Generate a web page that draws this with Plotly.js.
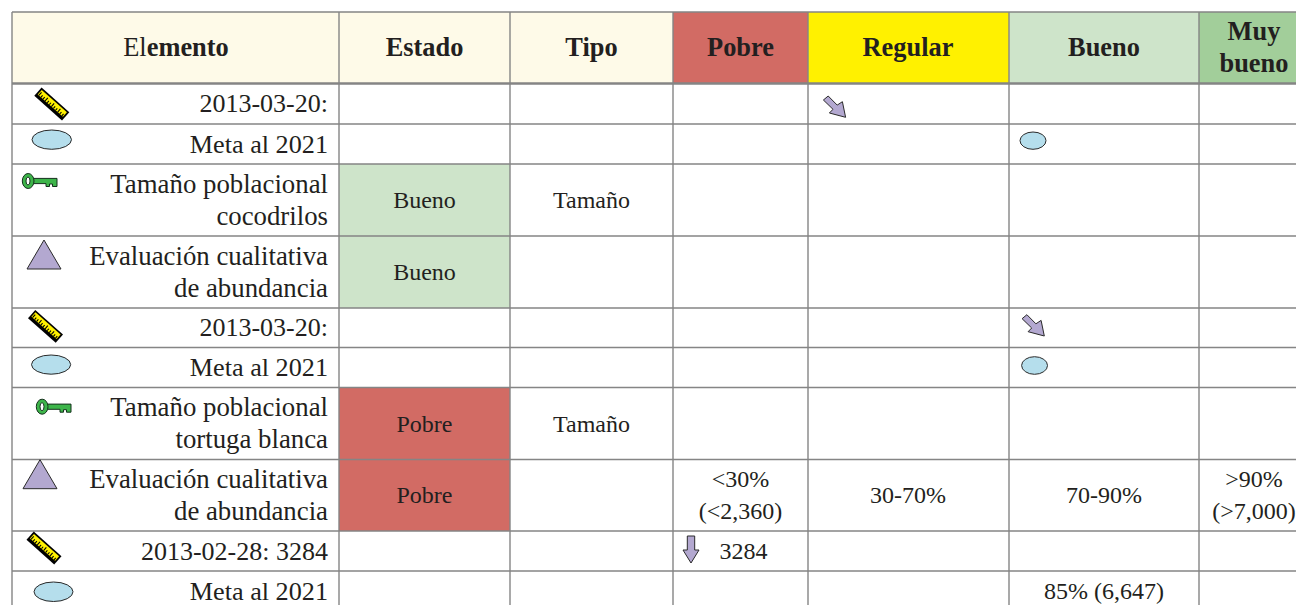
<!DOCTYPE html>
<html>
<head>
<meta charset="utf-8">
<script src="https://cdn.plot.ly/plotly-3.0.1.min.js"></script>
<style>html,body{margin:0;padding:0;background:#fff}#chart{width:1296px;height:605px}</style>
</head>
<body>
<div id="chart"></div>
<script>
// ---- content ----
var headers = ["El<b>emento</b>", "<b>Estado</b>", "<b>Tipo</b>", "<b>Pobre</b>", "<b>Regular</b>", "<b>Bueno</b>", "<b>Muy</b>|<b>bueno</b>"];
var elementLabels = [
  "2013-03-20:", "Meta al 2021",
  "Tamaño poblacional|cocodrilos", "Evaluación cualitativa|de abundancia",
  "2013-03-20:", "Meta al 2021",
  "Tamaño poblacional|tortuga blanca", "Evaluación cualitativa|de abundancia",
  "2013-02-28: 3284", "Meta al 2021"
];
var estado = ["", "", "Bueno", "Bueno", "", "", "Pobre", "Pobre", "", ""];
var tipo   = ["", "", "Tamaño", "", "", "", "Tamaño", "", "", ""];
var pobre  = ["", "", "", "", "", "", "", "<30%|(<2,360)", "", ""];
var regular= ["", "", "", "", "", "", "", "30-70%", "", ""];
var bueno  = ["", "", "", "", "", "", "", "70-90%", "", "85% (6,647)"];
var muyBueno=["", "", "", "", "", "", "", ">90%|(>7,000)", "", ""];
var pobreValue = ["3284"];

// ---- layout geometry ----
var colEdges = [12, 339, 510, 673, 808, 1009, 1199, 1310];
var rowEdges = [12, 83.5, 124, 164, 236, 308, 347.5, 387.5, 459.5, 531, 571, 611];
var colCenters = [0, 424.5, 591.5, 740.5, 908, 1104, 1254];
var lineStep = 32, textDy = 2, C_TEXT = "#231f20", C_LINE = "#858585";
var C_CREAM = "#fefae8", C_RED = "#d26b64", C_YEL = "#fff100", C_LG = "#cee4ca", C_G = "#a2ce9a";
var C_BLUE = "#b5deec", C_PUR = "#b3a8d0", C_DARK = "#2a2a2a", C_KEY = "#3db54a";
var headerFills = [C_CREAM, C_CREAM, C_CREAM, C_RED, C_YEL, C_LG, C_G];
var estadoFills = {Bueno: C_LG, Pobre: C_RED};

// ---- text ----
var tx = [], ty = [], tt = [], ts = [], tp = [];
function addText(str, x, yc, size, pos) {
  var parts = str.split("|");
  parts.forEach(function (p, i) {
    tx.push(x); ty.push(yc + textDy + (i - (parts.length - 1) / 2) * lineStep);
    tt.push(p); ts.push(size); tp.push(pos);
  });
}
function rowC(r) { return (rowEdges[r + 1] + rowEdges[r + 2]) / 2; }
headers.forEach(function (h, c) {
  addText(h, c === 0 ? 176 : colCenters[c], 47.5, 26.4, "middle center");
});
elementLabels.forEach(function (l, r) {
  addText(l, 328, rowC(r), l.indexOf("|") >= 0 ? 26.8 : (l.charAt(0) === "M" ? 26.2 : 26), "middle left");
});
[estado, tipo, pobre, regular, bueno, muyBueno].forEach(function (col, i) {
  col.forEach(function (v, r) { if (v) addText(v, colCenters[i + 1], rowC(r), 24, "middle center"); });
});
addText(pobreValue[0], 743.5, rowC(8), 24, "middle center");

// ---- shapes ----
var shapes = [];
function rect(x0, y0, x1, y1, fill) {
  shapes.push({type: "rect", xref: "x", yref: "y", x0: x0, x1: x1, y0: y0, y1: y1, fillcolor: fill, line: {width: 0}, layer: "below"});
}
headerFills.forEach(function (f, c) { rect(colEdges[c], rowEdges[0], colEdges[c + 1], rowEdges[1], f); });
estado.forEach(function (e, r) { if (e) rect(colEdges[1], rowEdges[r + 1], colEdges[2], rowEdges[r + 2], estadoFills[e]); });
colEdges.slice(0, 7).forEach(function (x) {
  shapes.push({type: "line", xref: "x", yref: "y", x0: x, x1: x, y0: 12, y1: 611, line: {color: C_LINE, width: 1.4}});
});
rowEdges.slice(0, 11).forEach(function (y, i) {
  shapes.push({type: "line", xref: "x", yref: "y", x0: 12, x1: 1310, y0: y, y1: y, line: {color: C_LINE, width: i === 1 ? 2.6 : 1.5}});
});
function poly(pts, fill, lw, lc) {
  var d = pts.map(function (p, i) { return (i ? "L" : "M") + p[0] + "," + p[1]; }).join(" ") + " Z";
  shapes.push({type: "path", xref: "x", yref: "y", path: d, fillcolor: fill, line: {width: lw === undefined ? 1 : lw, color: lc || C_DARK}});
}
function ellipse(x0, y0, x1, y1, fill, lw, lc) {
  shapes.push({type: "circle", xref: "x", yref: "y", x0: x0, x1: x1, y0: y0, y1: y1, fillcolor: fill, line: {width: lw === undefined ? 1 : lw, color: lc || C_DARK}});
}
function ruler(cx, cy) {
  var a = 41.5 * Math.PI / 180, c = Math.cos(a), s = Math.sin(a);
  function T(u, v) { return [cx + u * c - v * s, cy + u * s + v * c]; }
  function box(u0, v0, u1, v1, f) { poly([T(u0, v0), T(u1, v0), T(u1, v1), T(u0, v1)], f, 0); }
  box(-18.5, -5.5, 18.5, 5.5, "#000000");
  box(-16.8, -3.8, 16.8, 2.2, C_YEL);
  for (var u = -16; u <= 15.5; u += 2.8) box(u, -0.4 - (Math.round((u + 16) / 2.8) % 3 === 0 ? 1.6 : 0), u + 1.1, 2.2, "#000000");
}
function key(x, cy) {
  var K = "#14301c";
  poly([[x + 10, cy - 2.6], [x + 35, cy - 2.6], [x + 35, cy + 5.5], [x + 30.5, cy + 5.5], [x + 30.5, cy + 3], [x + 27.5, cy + 3], [x + 27.5, cy + 5.5], [x + 24, cy + 5.5], [x + 24, cy + 2.6], [x + 10, cy + 2.6]], C_KEY, 1, K);
  ellipse(x + 0.3, cy - 7.5, x + 12, cy + 7.5, C_KEY, 1, K);
  ellipse(x + 4, cy - 4, x + 8, cy + 4, "#ffffff", 1, K);
}
function triangle(cx, top) { poly([[cx, top], [cx + 17, top + 29], [cx - 17, top + 29]], C_PUR, 1); }
function arrowDR(tx_, ty_) {
  var o = [[-22.2, -17.3], [-17.4, -21.3], [-8.4, -12.2], [-3.2, -15.6], [0, 0], [-16.2, -4.3], [-12.6, -8]];
  poly(o.map(function (p) { return [tx_ + p[0], ty_ + p[1]]; }), C_PUR, 1);
}
function arrowDown(cx, top) {
  poly([[cx - 3.7, top], [cx + 3.7, top], [cx + 3.7, top + 14], [cx + 8, top + 14], [cx, top + 27], [cx - 8, top + 14], [cx - 3.7, top + 14]], C_PUR, 1);
}
ruler(51.8, 104); ruler(45.5, 326.3); ruler(44, 548);
ellipse(32, 130, 71.5, 149.3, C_BLUE); ellipse(31.5, 355, 70.7, 374.2, C_BLUE); ellipse(34, 582, 73, 601.5, C_BLUE);
ellipse(1020, 132, 1046, 149.3, C_BLUE); ellipse(1021.6, 356.7, 1047.5, 374.3, C_BLUE);
key(22, 181); key(36, 406.7);
triangle(44, 240); triangle(40, 459.7);
arrowDR(845.6, 117.3); arrowDR(1044.3, 336);
arrowDown(691, 536);

var trace = {
  type: "scatter", mode: "text", x: tx, y: ty, text: tt, textposition: tp,
  textfont: {family: "'Liberation Serif', 'Times New Roman', serif", size: ts, color: C_TEXT},
  hoverinfo: "skip", showlegend: false, cliponaxis: true
};
var layout = {
  width: 1296, height: 605, margin: {l: 0, r: 0, t: 0, b: 0, pad: 0},
  paper_bgcolor: "#ffffff", plot_bgcolor: "#ffffff", showlegend: false,
  xaxis: {range: [0, 1296], visible: false, fixedrange: true},
  yaxis: {range: [605, 0], visible: false, fixedrange: true},
  shapes: shapes
};
Plotly.newPlot("chart", [trace], layout, {displayModeBar: false, staticPlot: true});
</script>
</body>
</html>
